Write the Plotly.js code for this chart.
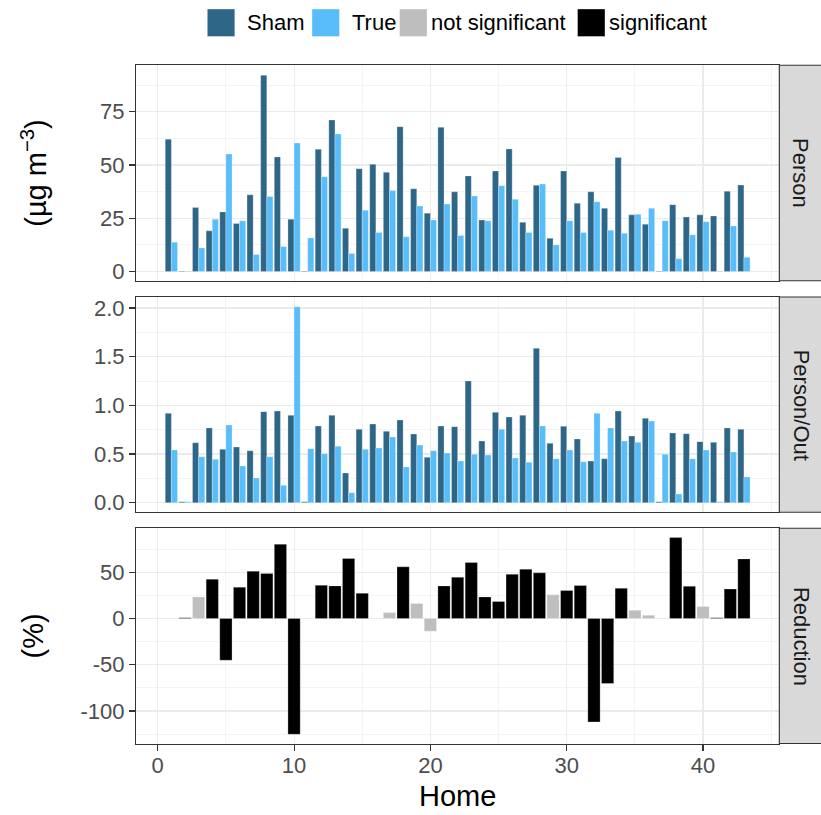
<!DOCTYPE html>
<html><head><meta charset="utf-8">
<script src="https://cdn.plot.ly/plotly-3.0.1.min.js"></script>
<style>html,body{margin:0;padding:0;background:#fff}#chart{width:821px;height:815px}</style>
</head><body><div id="chart"></div>
<script>
// ---------- data ----------
const homes = [1,2,3,4,5,6,7,8,9,10,11,12,13,14,15,16,17,18,19,20,21,22,23,24,25,26,27,28,29,30,31,32,33,34,35,36,37,38,39,40,41,42,43];
const shamPerson = [62.1,0.3,30.0,19.1,28.0,22.5,36.0,92.1,53.8,24.5,0.3,57.4,71.1,20.3,48.3,50.3,46.6,68.0,38.8,27.4,67.7,37.4,44.9,24.2,47.2,57.5,23.1,40.5,15.6,47.2,32.1,37.4,29.7,53.5,26.6,22.2,0.3,31.4,25.6,26.6,26.1,37.7,40.6];
const truePerson = [13.8,0.3,11.1,24.5,55.2,23.8,8.0,35.2,11.7,60.3,15.8,44.5,64.6,8.5,28.8,18.3,38.0,16.3,30.8,24.2,31.7,16.9,35.5,23.8,40.3,33.9,18.3,41.1,12.5,23.8,18.3,32.8,19.4,18.0,26.9,29.7,23.8,6.0,17.3,23.4,0.3,21.4,6.7];
const shamRatio = [0.918,0.01,0.617,0.768,0.548,0.572,0.534,0.935,0.942,0.898,0.01,0.788,0.898,0.305,0.754,0.808,0.733,0.849,0.706,0.466,0.788,0.781,1.250,0.634,0.928,0.880,0.898,1.586,0.610,0.785,0.654,0.428,0.452,0.942,0.685,0.867,0.01,0.716,0.709,0.627,0.620,0.768,0.754];
const trueRatio = [0.541,0.01,0.473,0.446,0.798,0.377,0.254,0.473,0.179,2.014,0.555,0.503,0.579,0.103,0.548,0.562,0.675,0.367,0.593,0.534,0.510,0.428,0.497,0.490,0.754,0.459,0.415,0.788,0.452,0.541,0.421,0.918,0.768,0.634,0.620,0.839,0.497,0.089,0.452,0.541,0.01,0.521,0.264];
const reduction = [null,0.8,23.4,42.5,-45.1,33.9,51.2,48.7,80.4,-125.2,null,36.0,35.3,64.9,27.4,null,6.5,55.9,16.2,-13.7,35.3,44.7,60.6,23.4,18.4,48.0,53.4,49.4,25.6,30.3,35.7,-111.9,-70.3,32.8,9.0,3.6,null,87.7,35.0,13.0,0.8,32.0,64.5];
const significance = ['S','S','N','S','S','S','S','S','S','S','S','S','S','S','S','S','N','S','N','N','S','S','S','S','S','S','S','S','N','S','S','S','S','S','N','N','S','S','S','N','S','S','S'];
const panelNames = ['Person','Person/Out','Reduction'];
const legendNames = ['Sham','True','not significant','significant'];
const xTicks = [0,10,20,30,40];
const xMinor = [5,15,25,35,45];
const personTicks = [0,25,50,75];
const personMinor = [12.5,37.5,62.5,87.5];
const ratioTicks = [0,0.5,1.0,1.5,2.0];
const ratioMinor = [0.25,0.75,1.25,1.75];
const reductionTicks = [-100,-50,0,50];
const reductionTickText = ['-100','-50','0','50'];
const reductionMinor = [-125,-75,-25,25,75];

// ---------- style ----------
const FONT = 'Liberation Sans, Arial, Helvetica, sans-serif';
const C_SHAM = '#2D6687', C_TRUE = '#58BDF8', C_NS = '#BEBEBE', C_SIG = '#000000';
const W = 821, H = 815;
const px = v => v / W, py = v => 1 - v / H;
const L = 136, R = 779.3;
const panels = [[65.3, 280.7], [297, 512.3], [528.3, 743.5]];
const barLine = {color: 'rgba(255,255,255,0.45)', width: 0.6};
const GRID = '#EBEBEB';

const idxN = homes.map((h, i) => i).filter(i => significance[i] === 'N' && reduction[i] !== null);
const idxS = homes.map((h, i) => i).filter(i => significance[i] === 'S' && reduction[i] !== null);

const traces = [
  {type:'bar', name:legendNames[0], x:homes, y:shamPerson, xaxis:'x', yaxis:'y', width:0.45, offset:-0.45, marker:{color:C_SHAM, line:barLine}},
  {type:'bar', name:legendNames[1], x:homes, y:truePerson, xaxis:'x', yaxis:'y', width:0.45, offset:0, marker:{color:C_TRUE, line:barLine}},
  {type:'bar', name:legendNames[0], x:homes, y:shamRatio, xaxis:'x2', yaxis:'y2', width:0.45, offset:-0.45, marker:{color:C_SHAM, line:barLine}},
  {type:'bar', name:legendNames[1], x:homes, y:trueRatio, xaxis:'x2', yaxis:'y2', width:0.45, offset:0, marker:{color:C_TRUE, line:barLine}},
  {type:'bar', name:legendNames[2], x:idxN.map(i => homes[i]), y:idxN.map(i => reduction[i]), xaxis:'x3', yaxis:'y3', width:0.9, marker:{color:C_NS, line:barLine}},
  {type:'bar', name:legendNames[3], x:idxS.map(i => homes[i]), y:idxS.map(i => reduction[i]), xaxis:'x3', yaxis:'y3', width:0.9, marker:{color:C_SIG, line:barLine}}
];

const minorGrid = vals => ({tickmode:'array', tickvals:vals, showgrid:true, gridcolor:GRID, gridwidth:0.55, ticks:''});
const frame = {
  showline:true, linecolor:'#333333', linewidth:1.1, mirror:true, zeroline:false,
  showgrid:true, gridcolor:GRID, gridwidth:1.1,
  tickfont:{family:FONT, size:22, color:'#4D4D4D'},
  tickcolor:'#333333', ticklen:6, tickwidth:1.1, fixedrange:true
};
const xr = [-1.595, 45.595];
const xbase = Object.assign({}, frame, {domain:[px(L), px(R)], range:xr, tickmode:'array', tickvals:xTicks, minor:minorGrid(xMinor)});

const layout = {
  width:W, height:H, margin:{l:0, r:0, t:0, b:0}, paper_bgcolor:'#fff', plot_bgcolor:'#fff',
  barmode:'overlay', showlegend:false, hovermode:false,
  font:{family:FONT, color:'#000'},
  xaxis: Object.assign({}, xbase, {anchor:'y', showticklabels:false, ticks:''}),
  xaxis2: Object.assign({}, xbase, {anchor:'y2', showticklabels:false, ticks:''}),
  xaxis3: Object.assign({}, xbase, {anchor:'y3', ticks:'outside', ticklabelstandoff:-4,
    title:{text:'Home', font:{family:FONT, size:29, color:'#000'}, standoff:8}}),
  yaxis: Object.assign({}, frame, {domain:[py(panels[0][1]), py(panels[0][0])], anchor:'x', range:[-4.3, 96.8], ticks:'outside',
    tickmode:'array', tickvals:personTicks, minor:minorGrid(personMinor),
    title:{text:'(µg m<sup>−3</sup>)', font:{family:FONT, size:29, color:'#000'}, standoff:44}}),
  yaxis2: Object.assign({}, frame, {domain:[py(panels[1][1]), py(panels[1][0])], anchor:'x2', range:[-0.0986, 2.113], ticks:'outside',
    tickmode:'array', tickvals:ratioTicks, tickformat:'.1f', minor:minorGrid(ratioMinor)}),
  yaxis3: Object.assign({}, frame, {domain:[py(panels[2][1]), py(panels[2][0])], anchor:'x3', range:[-135.2, 97.6], ticks:'outside',
    tickmode:'array', tickvals:reductionTicks, ticktext:reductionTickText, minor:minorGrid(reductionMinor),
    title:{text:'(%)', font:{family:FONT, size:29, color:'#000'}, standoff:28}}),
  shapes: [], annotations: []
};

// strips
panels.forEach((p, i) => {
  layout.shapes.push({type:'rect', xref:'paper', yref:'paper', x0:px(R), x1:px(R + 44), y0:py(p[1]), y1:py(p[0]),
    fillcolor:'#D9D9D9', line:{color:'#333333', width:1.1}, layer:'above'});
  layout.annotations.push({xref:'paper', yref:'paper', x:px(801), y:py((p[0] + p[1]) / 2), text:panelNames[i],
    textangle:90, showarrow:false, xanchor:'center', yanchor:'middle', font:{family:FONT, size:22, color:'#1A1A1A'}});
});

// legend keys (top)
const legendColors = [C_SHAM, C_TRUE, C_NS, C_SIG];
const keyX = [207.3, 312, 399.5, 577.5];
const textX = [246.5, 351.5, 430.5, 609];
legendNames.forEach((n, i) => {
  layout.shapes.push({type:'rect', xref:'paper', yref:'paper', x0:px(keyX[i]), x1:px(keyX[i] + 27.5), y0:py(36.5), y1:py(9),
    fillcolor:legendColors[i], line:{color:'rgba(255,255,255,0.6)', width:0.6}});
  layout.annotations.push({xref:'paper', yref:'paper', x:px(textX[i]), y:py(23), text:n, showarrow:false,
    xanchor:'left', yanchor:'middle', xshift:-2, font:{family:FONT, size:22, color:'#000'}});
});

Plotly.newPlot('chart', traces, layout, {staticPlot:true, displayModeBar:false});
</script>
</body></html>
